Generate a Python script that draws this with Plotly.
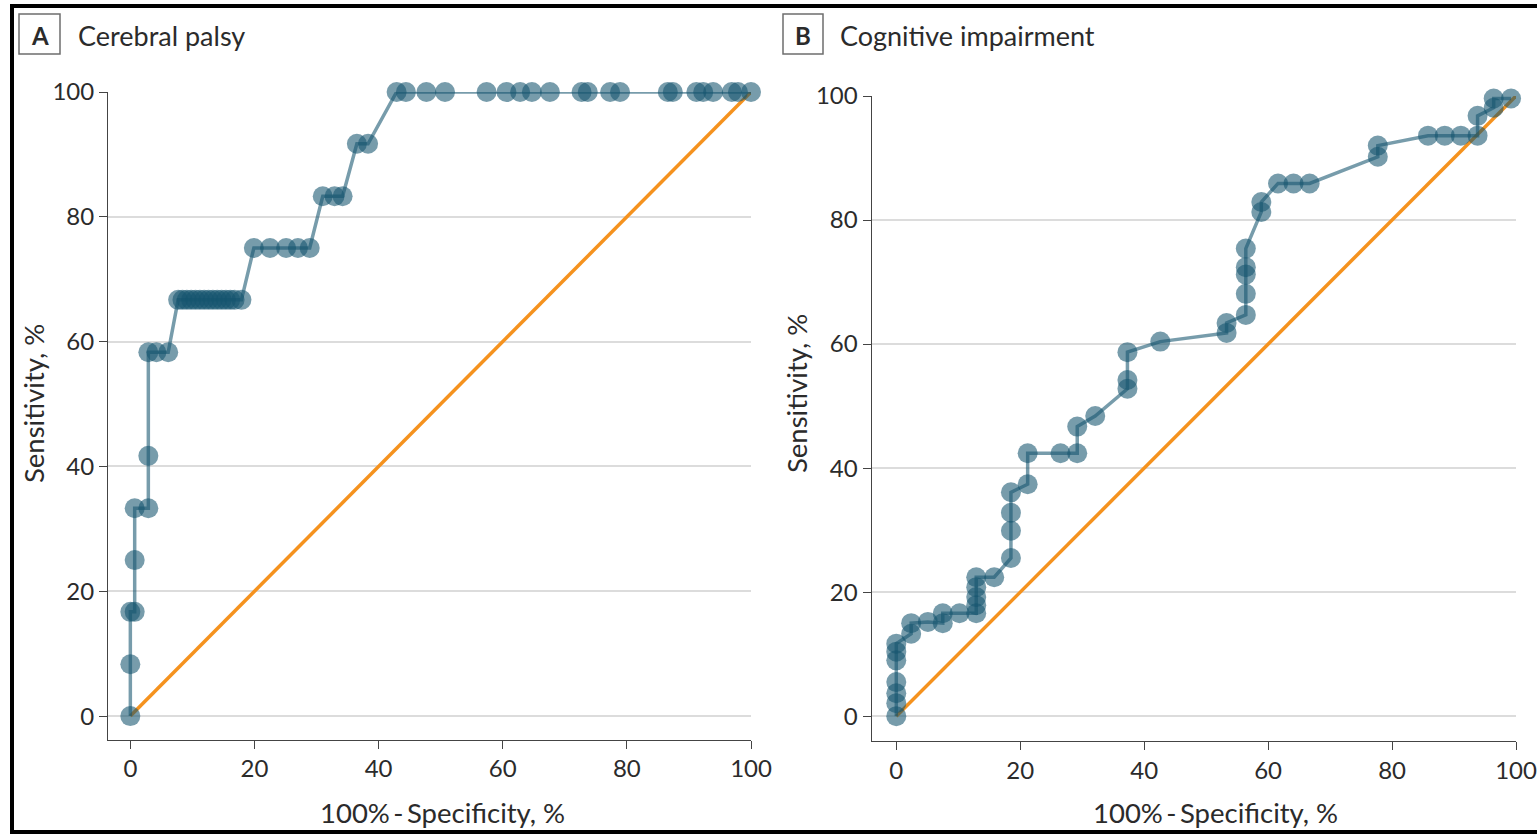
import plotly.graph_objects as go

W, H = 1537, 837

# ---------------- data ----------------
# Panel A: Cerebral palsy ROC points (100% - specificity, sensitivity)
cp_fpr = [0, 0, 0, 0.7, 0.7, 0.7, 2.9, 2.9, 2.9, 4.2, 6.1,
          7.7, 8.4, 9.1, 9.8, 10.5, 11.2, 11.9, 12.6, 13.3, 14.0, 14.7, 15.4, 16.1, 16.8, 17.9,
          19.9, 22.5, 25.1, 27.0, 28.9,
          31.0, 32.9, 34.2,
          36.5, 38.3,
          42.9, 44.4, 47.7, 50.7, 57.4, 60.6, 62.8, 64.7, 67.6, 72.7, 73.7, 77.3, 78.9,
          86.6, 87.4, 91.2, 92.3, 93.9, 96.9, 97.9, 100]
cp_sens = [0, 8.3, 16.7, 16.7, 25.0, 33.3, 33.3, 41.7, 58.3, 58.3, 58.3,
           66.7, 66.7, 66.7, 66.7, 66.7, 66.7, 66.7, 66.7, 66.7, 66.7, 66.7, 66.7, 66.7, 66.7, 66.7,
           75.0, 75.0, 75.0, 75.0, 75.0,
           83.3, 83.3, 83.3,
           91.7, 91.7,
           100, 100, 100, 100, 100, 100, 100, 100, 100, 100, 100, 100, 100,
           100, 100, 100, 100, 100, 100, 100, 100]

# Panel B: Cognitive impairment ROC points
ci_fpr = [0, 0, 0, 0, 0, 0, 0, 2.4, 2.4, 5.1, 7.5, 7.5, 10.2, 12.9, 12.9, 12.9, 12.9, 12.9,
          15.8, 18.5, 18.5, 18.5, 18.5, 21.2, 21.2, 26.5, 29.2, 29.2, 32.1, 37.3, 37.3, 37.3,
          42.6, 53.3, 53.3, 56.4, 56.4, 56.4, 56.4, 56.4, 58.9, 58.9, 61.6, 64.1, 66.7,
          77.7, 77.7, 85.8, 88.5, 91.1, 93.8, 93.8, 96.4, 96.4, 99.2]
ci_sens = [0, 2.1, 3.7, 5.5, 9.0, 10.4, 11.7, 13.3, 15.0, 15.2, 15.0, 16.6, 16.6, 16.6, 17.9, 19.2, 20.8, 22.4,
           22.4, 25.5, 29.9, 32.8, 36.1, 37.4, 42.4, 42.4, 42.4, 46.7, 48.4, 52.8, 54.2, 58.7,
           60.4, 61.8, 63.4, 64.7, 68.1, 71.2, 72.4, 75.4, 81.3, 82.9, 85.9, 85.9, 85.9,
           90.2, 92.0, 93.6, 93.6, 93.6, 93.6, 96.8, 98.1, 99.6, 99.6]

diag_x = [0, 100]
diag_y = [0, 100]

tick_vals = [0, 20, 40, 60, 80, 100]
panel_letters = ["A", "B"]
panel_titles = ["Cerebral palsy", "Cognitive impairment"]
x_title = "100%\u2009-\u2009Specificity, %"
y_title = "Sensitivity, %"

# ---------------- style ----------------
FONT = "Lato, 'Liberation Sans', Arial, sans-serif"
TXT = "#2b2b2b"
ROC_COL = "rgba(20,85,110,0.58)"
ORANGE = "#F5921E"
GRID = "#dcdcdc"
AXIS = "#444444"


def px(x):
    return x / W


def py(y):
    return 1 - y / H


fig = go.Figure()

panels = [
    dict(fx=cp_fpr, fy=cp_sens, xa="x", ya="y"),
    dict(fx=ci_fpr, fy=ci_sens, xa="x2", ya="y2"),
]
for p in panels:
    fig.add_trace(go.Scatter(x=diag_x, y=diag_y, mode="lines",
                             line=dict(color=ORANGE, width=3.5),
                             xaxis=p["xa"], yaxis=p["ya"], hoverinfo="skip",
                             showlegend=False, cliponaxis=False))
    fig.add_trace(go.Scatter(x=p["fx"], y=p["fy"], mode="lines+markers",
                             line=dict(color=ROC_COL, width=3.5),
                             marker=dict(size=20, color=ROC_COL, line=dict(width=0)),
                             xaxis=p["xa"], yaxis=p["ya"],
                             showlegend=False, cliponaxis=False))

axis_common = dict(
    showline=True, linecolor=AXIS, linewidth=1,
    ticks="outside", ticklen=8, tickcolor=AXIS, tickwidth=1,
    tickvals=tick_vals, tickfont=dict(family=FONT, size=24, color=TXT),
    zeroline=False, fixedrange=True, automargin=False,
)

# panel pixel geometry
A = dict(l=108, r=751, t=92, b=739.5, xr=[-3.6, 100], yr=[-3.75, 100])
B = dict(l=871.5, r=1516, t=96, b=741, xr=[-4.0, 100], yr=[-4.0, 100])

fig.update_layout(
    template="none",
    width=W, height=H,
    margin=dict(l=0, r=0, t=0, b=0, autoexpand=False),
    paper_bgcolor="white", plot_bgcolor="white",
    font=dict(family=FONT, color=TXT),
    xaxis=dict(domain=[px(A["l"]), px(A["r"])], range=A["xr"], showgrid=False,
               anchor="y", **axis_common),
    yaxis=dict(domain=[py(A["b"]), py(A["t"])], range=A["yr"], showgrid=True,
               gridcolor=GRID, gridwidth=1.5, anchor="x", **axis_common),
    xaxis2=dict(domain=[px(B["l"]), px(B["r"])], range=B["xr"], showgrid=False,
                anchor="y2", **axis_common),
    yaxis2=dict(domain=[py(B["b"]), py(B["t"])], range=B["yr"], showgrid=True,
                gridcolor=GRID, gridwidth=1.5, anchor="x2", **axis_common),
)

shapes = []
annotations = []

# outer frame
shapes.append(dict(type="rect", xref="paper", yref="paper",
                   x0=px(12), x1=px(1545), y0=py(832), y1=py(6),
                   line=dict(color="black", width=4), fillcolor="rgba(0,0,0,0)"))

# panel headers
hdr = [dict(bx0=19, bx1=60, tx=76), dict(bx0=783, bx1=823, tx=838)]
for h, letter, title in zip(hdr, panel_letters, panel_titles):
    shapes.append(dict(type="rect", xref="paper", yref="paper",
                       x0=px(h["bx0"]), x1=px(h["bx1"]), y0=py(54), y1=py(14),
                       line=dict(color="#6e6e6e", width=1.5), fillcolor="white"))
    annotations.append(dict(xref="paper", yref="paper", x=px((h["bx0"] + h["bx1"]) / 2), y=py(35),
                            text="<b>%s</b>" % letter, showarrow=False, xanchor="center",
                            yanchor="middle", font=dict(family=FONT, size=24, color=TXT)))
    annotations.append(dict(xref="paper", yref="paper", x=px(h["tx"]), y=py(35),
                            text=title, showarrow=False, xanchor="left", yanchor="middle",
                            font=dict(family=FONT, size=27, color=TXT)))

# axis titles
for xc, yc_x, yc_y in [(442, 33, 404), (1215, 797, 394)]:
    annotations.append(dict(xref="paper", yref="paper", x=px(xc), y=py(812), text=x_title,
                            showarrow=False, xanchor="center", yanchor="middle",
                            font=dict(family=FONT, size=27.5, color=TXT)))
    annotations.append(dict(xref="paper", yref="paper", x=px(yc_x), y=py(yc_y), text=y_title,
                            showarrow=False, xanchor="center", yanchor="middle", textangle=-90,
                            font=dict(family=FONT, size=27.5, color=TXT)))

fig.update_layout(shapes=shapes, annotations=annotations)

fig.write_html("out.html")
